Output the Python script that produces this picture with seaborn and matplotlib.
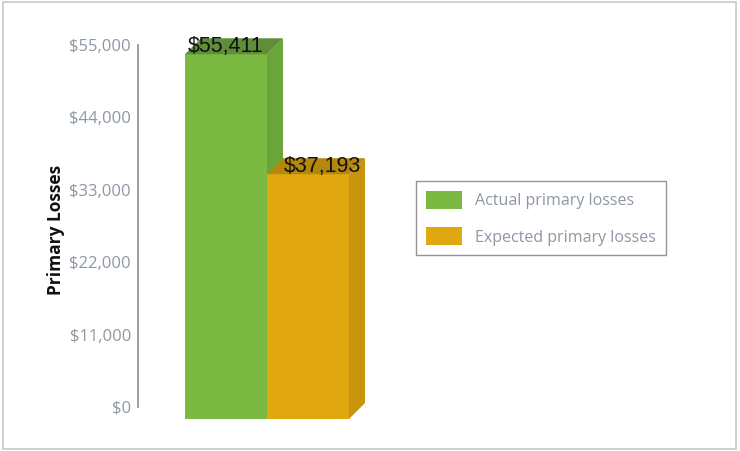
import matplotlib
matplotlib.use("Agg")
import matplotlib.pyplot as plt
import matplotlib.patches as mpatches
import matplotlib.transforms as mtransforms
import seaborn as sns
import pandas as pd

categories = ["Actual primary losses", "Expected primary losses"]
values = [55411, 37193]
value_labels = ["$55,411", "$37,193"]
ytick_values = [0, 11000, 22000, 33000, 44000, 55000]
ytick_labels = ["$0", "$11,000", "$22,000", "$33,000", "$44,000", "$55,000"]

front_colors = ["#7cb943", "#e0a70e"]
side_colors = ["#6aa53a", "#c9950c"]
top_colors = ["#5e8f38", "#b5870b"]

df = pd.DataFrame({"category": categories, "value": values})

sns.set_theme(style="white")
plt.rcParams["font.family"] = ["Open Sans", "DejaVu Sans"]

W, H, DPI = 740, 451, 100
fig = plt.figure(figsize=(W / DPI, H / DPI), dpi=DPI)
ax = fig.add_axes([138 / W, (H - 407) / H, 262 / W, 362 / H])

sns.barplot(data=df, x="category", y="value", hue="category",
            palette=front_colors, width=1.0, legend=False, ax=ax,
            saturation=1, edgecolor="none")

ax.set_ylim(0, 55000)
ax.set_xlim(-1.073, 2.122)
ax.set_yticks(ytick_values)
ax.set_yticklabels(ytick_labels, color="#8d97a6", fontsize=12)
ax.set_xticks([])
ax.set_xlabel("")
ax.set_ylabel("Primary Losses", fontsize=12.5, fontweight="bold", color="#111111")
ax.yaxis.set_label_coords(-0.279, 0.489)
ax.tick_params(axis="y", length=0, pad=5)
for s in ["top", "right", "bottom"]:
    ax.spines[s].set_visible(False)
ax.spines["left"].set_color("#8c8c8c")
ax.spines["left"].set_linewidth(1.2)
ax.patch.set_alpha(0)

# 3D-style extrusion: front face shifted down, side/top faces drawn in pixels
front_dy = -12
depth = 16
label_dx = [0, 14]
front_off = mtransforms.ScaledTranslation(0, front_dy / DPI, fig.dpi_scale_trans)
ident = mtransforms.IdentityTransform()

bars = sorted(ax.patches, key=lambda p: p.get_x())
for i, p in enumerate(bars):
    p.set_transform(ax.transData + front_off)
    p.set_clip_on(False)
    p.set_zorder(2 + i * 3)
    x0, y0 = p.get_x(), p.get_y()
    x1, y1 = x0 + p.get_width(), y0 + p.get_height()
    (px0, py0) = ax.transData.transform((x0, y0))
    (px1, py1) = ax.transData.transform((x1, y1))
    py0 += front_dy
    py1 += front_dy
    side = mpatches.Polygon([(px1, py0), (px1 + depth, py0 + depth),
                             (px1 + depth, py1 + depth), (px1, py1)],
                            closed=True, transform=ident, facecolor=side_colors[i],
                            edgecolor="none", clip_on=False, zorder=3 + i * 3)
    top = mpatches.Polygon([(px0, py1), (px0 + depth, py1 + depth),
                            (px1 + depth, py1 + depth), (px1, py1)],
                           closed=True, transform=ident, facecolor=top_colors[i],
                           edgecolor="none", clip_on=False, zorder=3 + i * 3)
    ax.add_patch(side)
    ax.add_patch(top)
    label_off = mtransforms.ScaledTranslation(label_dx[i] / DPI, -4 / DPI, fig.dpi_scale_trans)
    ax.text(x0 + p.get_width() / 2, values[i], value_labels[i],
            transform=ax.transData + label_off,
            ha="center", va="center", fontsize=15.5, color="#111111",
            family=["Liberation Sans", "DejaVu Sans"], zorder=20, clip_on=False)

handles = [mpatches.Patch(facecolor=c, edgecolor="none") for c in front_colors]
leg = fig.legend(handles, categories, loc="upper left",
                 bbox_to_anchor=(416 / W, 1 - 181 / H), frameon=True,
                 fontsize=11.5, handlelength=2.3, handleheight=1.35,
                 borderpad=0.6, labelspacing=1.15, handletextpad=0.8,
                 borderaxespad=0, fancybox=False)
leg.get_frame().set_edgecolor("#7a7a7a")
leg.get_frame().set_linewidth(1.0)
for t in leg.get_texts():
    t.set_color("#8d97a6")

fig.add_artist(mpatches.Rectangle((3 / W, 2 / H), 733 / W, 447 / H,
                                  transform=fig.transFigure, fill=False,
                                  edgecolor="#c8c8c8", linewidth=1.2))

fig.savefig("out.png", dpi=DPI)
